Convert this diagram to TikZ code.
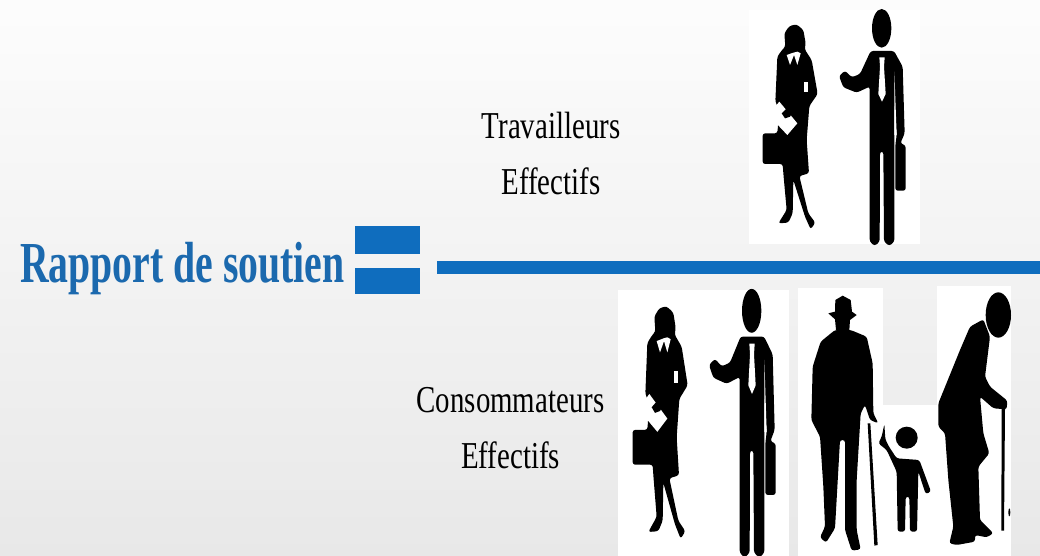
\documentclass[tikz,border=0pt]{standalone}
\usepackage{fontspec}
\setmainfont{Liberation Serif}
\definecolor{barblue}{HTML}{0F6DBE}
\definecolor{titleblue}{HTML}{1B69AE}
\tikzset{
  sil/.style={fill=black, rounded corners=2.5pt},
  panel/.style={fill=white, draw=none},
  bar/.style={fill=barblue, draw=none},
  label/.style={font=\fontsize{38}{40}\selectfont, xscale=.76, text=black, inner sep=0pt},
  pics/workers/.style={code={
      % Woman
      \fill[sil] (112,170) -- (126,150) -- (136,140) -- (133,100) -- (148,78) -- (170,73) -- (190,90) -- (197,130)
        -- (194,148) -- (215,180) -- (233,282) -- (208,318) -- (200,420)
        -- (207,520) -- (178,528) -- (205,640) -- (226,668) -- (212,688) -- (195,650) -- (160,540)
        -- (158,640) -- (145,668) -- (115,670) -- (140,630) -- (130,520) -- (128,492) -- (68,492)
        -- (68,400) -- (112,400) -- (118,330) -- (106,305) -- cycle;
      \fill[white] (140,165) -- (150,195) -- (162,165) -- (172,195) -- (182,160) -- (172,155) -- (160,158) -- cycle;
      \fill[white] (85,345) -- (118,305) -- (172,370) -- (142,405) -- cycle;
      \fill[black] (125,340) -- (145,320) -- (165,325) -- (150,350) -- (135,355) -- cycle;
      \fill[white] (192,245) rectangle (204,275);
      % Man
      \fill[black] (425,85) ellipse (29 and 58);
      \fill[sil] (392,153) -- (462,153) -- (488,200) -- (494,400) -- (481,430) -- (497,436)
        -- (497,572) -- (466,572) -- (466,436) -- (470,405) -- (463,300) -- (463,725) -- (448,738)
        -- (432,725) -- (430,455) -- (420,455) -- (419,725) -- (404,738) -- (389,725) -- (389,260)
        -- (350,278) -- (310,262) -- (297,228) -- (315,212) -- (335,232) -- (360,222) -- cycle;
      \fill[white] (463,215) -- (470,405) -- (463,405) -- cycle;
      \fill[white] (418,172) -- (434,172) -- (432,200) -- (437,282) -- (426,305) -- (415,282) -- (420,200) -- cycle;
  }}
}
\begin{document}
\begin{tikzpicture}[x=1pt, y=-1pt]
  \useasboundingbox (0,0) rectangle (1040,556);

  % Background
  \shade[top color=black!1, bottom color=black!9] (0,0) rectangle (1040,556);

  % White panels
  \fill[panel] (749,10) rectangle (920,244);
  \fill[panel] (618,290) rectangle (789,556);
  \fill[panel] (798,288) rectangle (883,556);
  \fill[panel] (883,405) rectangle (937,556);
  \fill[panel] (937,286) rectangle (1011,556);

  % Upper workers
  \pic[shift={(740,0)}, scale=1/3] {workers};

  % Lower workers
  \pic[shift={(610,278.7)}, xscale=1/3, yscale=.378] {workers};

  % Texts
  \node[label] (travailleurs) at (551,126) {Travailleurs};
  \node[label] (effectifsA) at (551,181) {Effectifs};
  \node[label] (consommateurs) at (510.5,400) {Consommateurs};
  \node[label] (effectifsB) at (510.5,455) {Effectifs};
  \node[font=\fontsize{58}{60}\selectfont\bfseries, xscale=.685, text=titleblue, inner sep=0pt, anchor=base] (rapport) at (182.5,282) {Rapport de soutien};

  % Equal sign and fraction line
  \fill[bar] (355,226) rectangle (420,254);
  \fill[bar] (355,268) rectangle (420,294);
  \fill[bar] (437,261) rectangle (1040,274);

  % Old man, child, old woman
  \begin{scope}[shift={(790,280)}, scale=1/3]
    % Old man
    \fill[sil] (135,150) -- (92,185) -- (68,260) -- (64,420) -- (90,470) -- (100,620) -- (105,740)
      -- (90,772) -- (108,788) -- (135,745) -- (150,480) -- (165,480) -- (165,750) -- (185,812)
      -- (212,808) -- (200,750) -- (200,600) -- (212,400) -- (225,375) -- (240,420) -- (265,430) -- (250,400)
      -- (248,250) -- (230,170) -- (182,150) -- cycle;
    \fill[black] (115,100) -- (135,95) -- (136,60) -- (158,47) -- (182,60) -- (186,95) -- (200,105) -- (180,120) -- (178,150) -- (138,150) -- (135,118) -- cycle;
    \fill[black] (233,430) -- (241,430) -- (263,795) -- (253,797) -- cycle;
    % Child
    \fill[black] (350,473) circle (33);
    \fill[sil] (320,535) -- (297,500) -- (286,478) -- (283,432) -- (275,470) -- (265,490)
      -- (290,510) -- (320,575) -- (323,755) -- (345,755) -- (347,650) -- (358,650) -- (360,755)
      -- (381,755) -- (385,575) -- (407,642) -- (423,635) -- (388,540) -- cycle;
    % Old woman
    \fill[black] (625,105) ellipse (38 and 68);
    \fill[sil] (580,118) -- (540,140) -- (510,210) -- (445,370) -- (445,440) -- (465,460) -- (475,600)
      -- (490,740) -- (478,790) -- (500,795) -- (555,785) -- (555,765) -- (590,772) -- (610,760)
      -- (570,720) -- (565,560) -- (598,520) -- (580,460) -- (570,350) -- (610,385) -- (650,388)
      -- (652,362) -- (600,320) -- (585,290) -- (600,170) -- cycle;
    \fill[black] (635,385) -- (645,385) -- (642,752) -- (634,752) -- cycle;
    \fill[black] (658,697) ellipse (3 and 12);
  \end{scope}
\end{tikzpicture}
\end{document}
